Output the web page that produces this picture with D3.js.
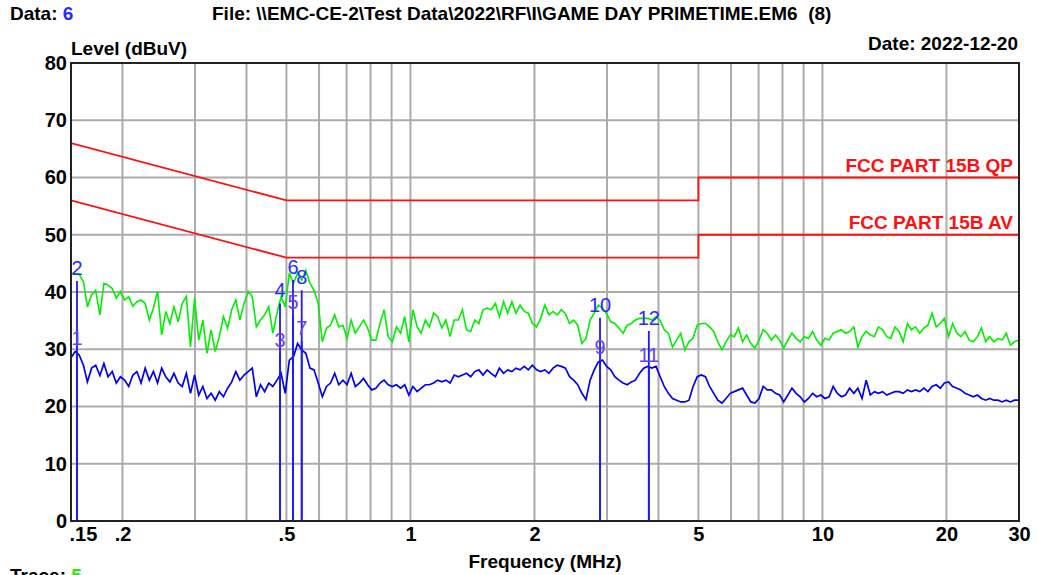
<!DOCTYPE html>
<html><head><meta charset="utf-8">
<script src="https://cdn.jsdelivr.net/npm/d3@7"></script>
<style>
html,body{margin:0;padding:0;background:#fff;}
svg{display:block;}
text{font-family:"Liberation Sans",Arial,sans-serif;}
</style></head>
<body><svg id="c" width="1037" height="575"></svg>
<script>
// ---------- data ----------
const freqs = [
0.1500,0.1535,0.1570,0.1608,0.1644,0.1683,0.1722,0.1763,0.1803,0.1845,
0.1889,0.1932,0.1977,0.2024,0.2070,0.2120,0.2168,0.2219,0.2271,0.2324,
0.2378,0.2433,0.2490,0.2547,0.2607,0.2667,0.2730,0.2793,0.2858,0.2925,
0.2993,0.3063,0.3134,0.3207,0.3282,0.3359,0.3437,0.3516,0.3599,0.3683,
0.3768,0.3855,0.3945,0.4038,0.4131,0.4227,0.4326,0.4427,0.4530,0.4635,
0.4743,0.4854,0.4967,0.5082,0.5201,0.5322,0.5447,0.5573,0.5703,0.5835,
0.5972,0.6111,0.6254,0.6399,0.6548,0.6701,0.6857,0.7016,0.7179,0.7347,
0.7518,0.7694,0.7872,0.8055,0.8243,0.8435,0.8631,0.8832,0.9039,0.9249,
0.9465,0.9686,0.9911,1.014,1.038,1.062,1.087,1.112,1.138,1.164,
1.192,1.219,1.248,1.277,1.307,1.337,1.368,1.400,1.433,1.466,
1.500,1.535,1.570,1.608,1.644,1.683,1.722,1.763,1.803,1.845,
1.889,1.932,1.977,2.024,2.070,2.120,2.168,2.219,2.271,2.324,
2.378,2.433,2.490,2.547,2.607,2.667,2.730,2.793,2.858,2.925,
2.993,3.063,3.134,3.207,3.282,3.359,3.437,3.516,3.599,3.683,
3.768,3.855,3.945,4.038,4.131,4.227,4.326,4.427,4.530,4.635,
4.743,4.854,4.967,5.082,5.201,5.322,5.447,5.573,5.703,5.835,
5.972,6.111,6.254,6.399,6.548,6.701,6.857,7.016,7.179,7.347,
7.518,7.694,7.872,8.055,8.243,8.435,8.631,8.832,9.039,9.249,
9.465,9.686,9.911,10.14,10.38,10.62,10.87,11.12,11.38,11.64,
11.92,12.19,12.48,12.77,13.07,13.37,13.68,14.00,14.33,14.66,
15.00,15.35,15.70,16.08,16.44,16.83,17.22,17.63,18.03,18.45,
18.89,19.32,19.77,20.24,20.70,21.20,21.68,22.19,22.71,23.24,
23.78,24.33,24.90,25.47,26.07,26.67,27.30,27.93,28.58,29.25,
29.93];

// Trace 5 (green, peak/QP scan) in dBuV
const peakLevels = [
43.3,43.2,43.1,41.8,37.4,39.5,40.3,36.0,41.5,41.2,
40.6,38.9,40.1,38.6,39.2,37.5,38.3,38.6,38.0,35.1,
37.2,40.1,32.5,36.6,34.5,37.4,34.8,38.0,39.2,30.4,
38.9,31.6,35.1,29.3,33.4,29.6,32.2,35.7,33.7,36.9,
38.6,35.1,38.0,40.1,39.2,33.9,35.1,36.0,37.4,32.8,
36.3,39.2,37.4,43.3,41.5,43.3,42.1,43.8,41.5,40.3,
38.0,31.3,33.7,34.2,36.0,33.9,34.2,31.9,35.1,32.8,
33.9,35.1,33.7,31.6,31.6,34.5,36.9,32.2,31.3,33.9,
32.8,35.7,31.3,36.9,33.9,32.8,35.1,33.9,36.3,35.7,
33.7,35.1,32.2,35.1,35.1,36.9,33.4,33.1,35.1,34.5,
36.9,37.2,36.9,38.0,35.7,38.3,36.3,38.3,36.3,37.7,
36.6,36.3,34.5,33.9,35.4,37.7,36.0,36.6,36.0,36.9,
36.2,34.5,35.1,34.2,31.0,31.9,35.1,36.3,37.7,37.2,
36.2,34.8,34.5,33.7,32.8,34.2,34.5,35.1,35.4,35.4,
35.4,35.1,35.7,35.0,33.4,32.8,30.4,31.6,32.8,29.9,
31.3,32.0,34.2,34.5,34.5,33.9,33.1,31.3,29.9,31.3,
32.5,32.2,33.7,31.3,32.5,31.0,30.2,31.6,33.4,32.8,
31.6,32.5,31.6,30.2,31.6,32.8,31.9,31.3,32.2,31.9,
33.1,31.6,30.7,31.9,31.6,32.8,33.1,33.4,32.8,33.1,
33.9,30.4,32.2,33.1,32.5,32.2,33.9,33.4,32.2,31.9,
33.9,33.1,31.3,34.5,33.4,33.9,32.8,33.7,34.2,36.3,
33.9,34.5,35.4,32.2,34.5,32.8,32.2,33.1,31.6,31.3,
32.2,33.7,31.3,32.2,31.3,31.9,31.6,32.8,30.7,31.3,31.6];

// Data 6 (blue, average scan) in dBuV
const avgLevels = [
28.5,29.6,29.0,27.2,24.3,26.7,27.2,25.4,27.5,25.2,
26.1,24.1,25.2,24.6,23.5,25.5,26.1,24.1,26.7,24.6,
26.1,24.1,26.7,25.2,24.3,25.8,24.1,23.5,25.8,22.3,
25.5,22.0,23.5,21.4,22.3,21.1,22.6,21.7,23.2,24.3,
26.1,24.6,25.5,26.1,26.7,21.7,23.8,22.6,24.1,23.5,
24.6,25.8,22.3,28.1,28.7,31.0,29.9,29.3,26.7,26.4,
24.1,21.7,23.5,24.1,25.8,23.8,24.6,23.8,25.8,23.5,
24.1,24.9,23.8,22.9,23.2,24.1,24.6,23.8,23.5,23.8,
23.2,23.8,22.0,23.5,22.6,23.2,23.8,23.8,24.1,24.6,
24.3,24.6,24.1,25.5,25.2,25.5,25.8,25.2,26.1,26.4,
25.5,26.4,25.8,25.2,26.7,25.8,26.4,26.1,26.7,26.4,
27.0,26.4,27.2,26.4,26.1,26.4,25.8,26.7,27.2,27.0,
26.7,25.2,24.6,23.8,22.3,21.2,24.6,26.4,27.8,28.1,
27.0,26.4,25.2,24.6,24.1,23.8,24.3,24.6,25.8,26.7,
27.0,26.7,27.0,25.2,23.5,22.3,21.4,21.1,20.8,20.8,
21.1,23.5,25.2,25.5,25.2,23.5,22.3,21.1,20.6,21.4,
22.3,22.6,22.9,23.2,22.0,20.8,20.6,21.4,23.5,22.9,
22.9,22.3,22.0,20.8,22.0,23.2,22.3,21.7,20.8,21.4,
22.3,21.7,22.0,21.4,21.7,23.5,22.3,21.7,22.0,23.2,
22.3,23.2,21.4,24.6,22.0,22.6,22.3,22.6,22.0,22.3,
22.6,22.6,22.3,22.9,22.6,22.9,22.6,23.2,22.6,23.5,
23.8,23.2,24.1,24.3,23.5,23.2,22.9,22.3,22.0,21.7,
22.0,21.4,21.1,21.4,21.1,21.1,20.8,21.1,20.8,21.1,21.1];

// Limit lines
const qpLimitFreq  = [0.15, 0.5, 5, 5, 30];
const qpLimitLevel = [66, 56, 56, 60, 60];
const avLimitFreq  = [0.15, 0.5, 5, 5, 30];
const avLimitLevel = [56, 46, 46, 50, 50];
const limitNames = ["FCC PART 15B QP", "FCC PART 15B AV"];

// Markers
const markerIds    = [1, 2, 3, 4, 5, 6, 7, 8, 9, 10, 11, 12];
const markerFreqs  = [0.1551, 0.1551, 0.4824, 0.4824, 0.5187, 0.5187, 0.5446, 0.5446, 2.885, 2.885, 3.79, 3.79];
const markerLevels = [29.7, 41.9, 29.3, 38.0, 36.0, 42.1, 31.4, 40.3, 28.1, 35.5, 26.7, 33.2];

// Axes
const yTicks = [0, 10, 20, 30, 40, 50, 60, 70, 80];
const xTickValues = [0.15, 0.2, 0.5, 1, 2, 5, 10, 20, 30];
const xTickLabels = [".15", ".2", ".5", "1", "2", "5", "10", "20", "30"];
const xGrid = [0.2, 0.3, 0.4, 0.5, 0.6, 0.7, 0.8, 0.9, 1, 2, 3, 4, 5, 6, 7, 8, 9, 10, 20];

// ---------- drawing ----------
const svg = d3.select("#c");
const L = 71, R = 1019, T = 63, B = 521;
const x = d3.scaleLog().domain([0.15, 30]).range([L, R]);
const y = d3.scaleLinear().domain([0, 80]).range([B, T]);

svg.append("defs").append("clipPath").attr("id", "clip")
  .append("rect").attr("x", L).attr("y", T).attr("width", R - L).attr("height", B - T);

// grid
svg.append("g").selectAll("line").data(xGrid).join("line")
  .attr("x1", d => x(d)).attr("x2", d => x(d)).attr("y1", T).attr("y2", B)
  .attr("stroke", "#ababab").attr("stroke-width", 2);
svg.append("g").selectAll("line").data(yTicks.slice(1, -1)).join("line")
  .attr("x1", L).attr("x2", R).attr("y1", d => y(d)).attr("y2", d => y(d))
  .attr("stroke", "#ababab").attr("stroke-width", 2);

const line = d3.line().x(d => x(d[0])).y(d => y(d[1]));
const plot = svg.append("g").attr("clip-path", "url(#clip)");

// limit lines
[[qpLimitFreq, qpLimitLevel], [avLimitFreq, avLimitLevel]].forEach(([fs, ls]) => {
  plot.append("path").datum(fs.map((f, i) => [f, ls[i]]))
    .attr("d", line).attr("fill", "none").attr("stroke", "#ff1010").attr("stroke-width", 1.8);
});

// traces
plot.append("path").datum(freqs.map((f, i) => [f, peakLevels[i]]))
  .attr("d", line).attr("fill", "none").attr("stroke", "#00f000").attr("stroke-width", 1.6);
plot.append("path").datum(freqs.map((f, i) => [f, avgLevels[i]]))
  .attr("d", line).attr("fill", "none").attr("stroke", "#0000f0").attr("stroke-width", 1.7);

// marker lines
plot.append("g").selectAll("line").data(markerIds).join("line")
  .attr("x1", (d, i) => x(markerFreqs[i])).attr("x2", (d, i) => x(markerFreqs[i]))
  .attr("y1", y(0)).attr("y2", (d, i) => y(markerLevels[i]))
  .attr("stroke", "#1a1aff").attr("stroke-width", 1.8);

// marker labels
svg.append("g").selectAll("text").data(markerIds).join("text")
  .attr("x", (d, i) => x(markerFreqs[i])).attr("y", (d, i) => y(markerLevels[i]) - 6)
  .attr("text-anchor", "middle").attr("font-size", 20)
  .attr("fill", d => d % 2 ? "#6a3cff" : "#2a2aff")
  .text(d => d);

// limit labels
const limLbl = (txt, lv) => svg.append("text").attr("x", 1013).attr("y", y(lv) - 6)
  .attr("text-anchor", "end").attr("font-size", 19).attr("font-weight", "bold")
  .attr("fill", "#ff1010").text(txt);
limLbl(limitNames[0], 60);
limLbl(limitNames[1], 50);

// border
svg.append("rect").attr("x", L).attr("y", T).attr("width", R - L).attr("height", B - T)
  .attr("fill", "none").attr("stroke", "#222").attr("stroke-width", 2);

// axes
const yAxis = svg.append("g").attr("transform", `translate(${L},0)`)
  .call(d3.axisLeft(y).tickValues(yTicks).tickSize(0).tickPadding(4).tickFormat(d3.format("d")));
yAxis.select(".domain").remove();
yAxis.selectAll("text").attr("font-size", 20).attr("font-weight", "bold").attr("fill", "#000")
  .attr("font-family", "Liberation Sans, Arial, sans-serif");

const xAxis = svg.append("g").attr("transform", `translate(0,${B})`)
  .call(d3.axisBottom(x).tickValues(xTickValues).tickSize(0).tickPadding(6)
    .tickFormat((d, i) => xTickLabels[i]));
xAxis.select(".domain").remove();
xAxis.selectAll("text").attr("font-size", 20).attr("font-weight", "bold").attr("fill", "#000")
  .attr("font-family", "Liberation Sans, Arial, sans-serif")
  .attr("text-anchor", (d, i) => i === 0 ? "start" : "middle")
  .attr("dx", (d, i) => i === 0 ? -2 : 0);

// titles
const bold = sel => sel.attr("font-size", 19).attr("font-weight", "bold").attr("fill", "#000");
const t1 = svg.append("text").attr("x", 10).attr("y", 20).call(bold);
t1.append("tspan").text("Data: ");
t1.append("tspan").attr("fill", "#2a2aff").text("6");
svg.append("text").attr("x", 212).attr("y", 20).call(bold).style("white-space", "pre")
  .text("File: \\\\EMC-CE-2\\Test Data\\2022\\RF\\I\\GAME DAY PRIMETIME.EM6  (8)");
svg.append("text").attr("x", 71).attr("y", 55).call(bold).text("Level (dBuV)");
svg.append("text").attr("x", 1018).attr("y", 50).attr("text-anchor", "end").call(bold).text("Date: 2022-12-20");
svg.append("text").attr("x", 545).attr("y", 568).attr("text-anchor", "middle").call(bold).text("Frequency (MHz)");
const t2 = svg.append("text").attr("x", 10).attr("y", 582).call(bold);
t2.append("tspan").text("Trace: ");
t2.append("tspan").attr("fill", "#22ee00").text("5");
</script></body></html>
